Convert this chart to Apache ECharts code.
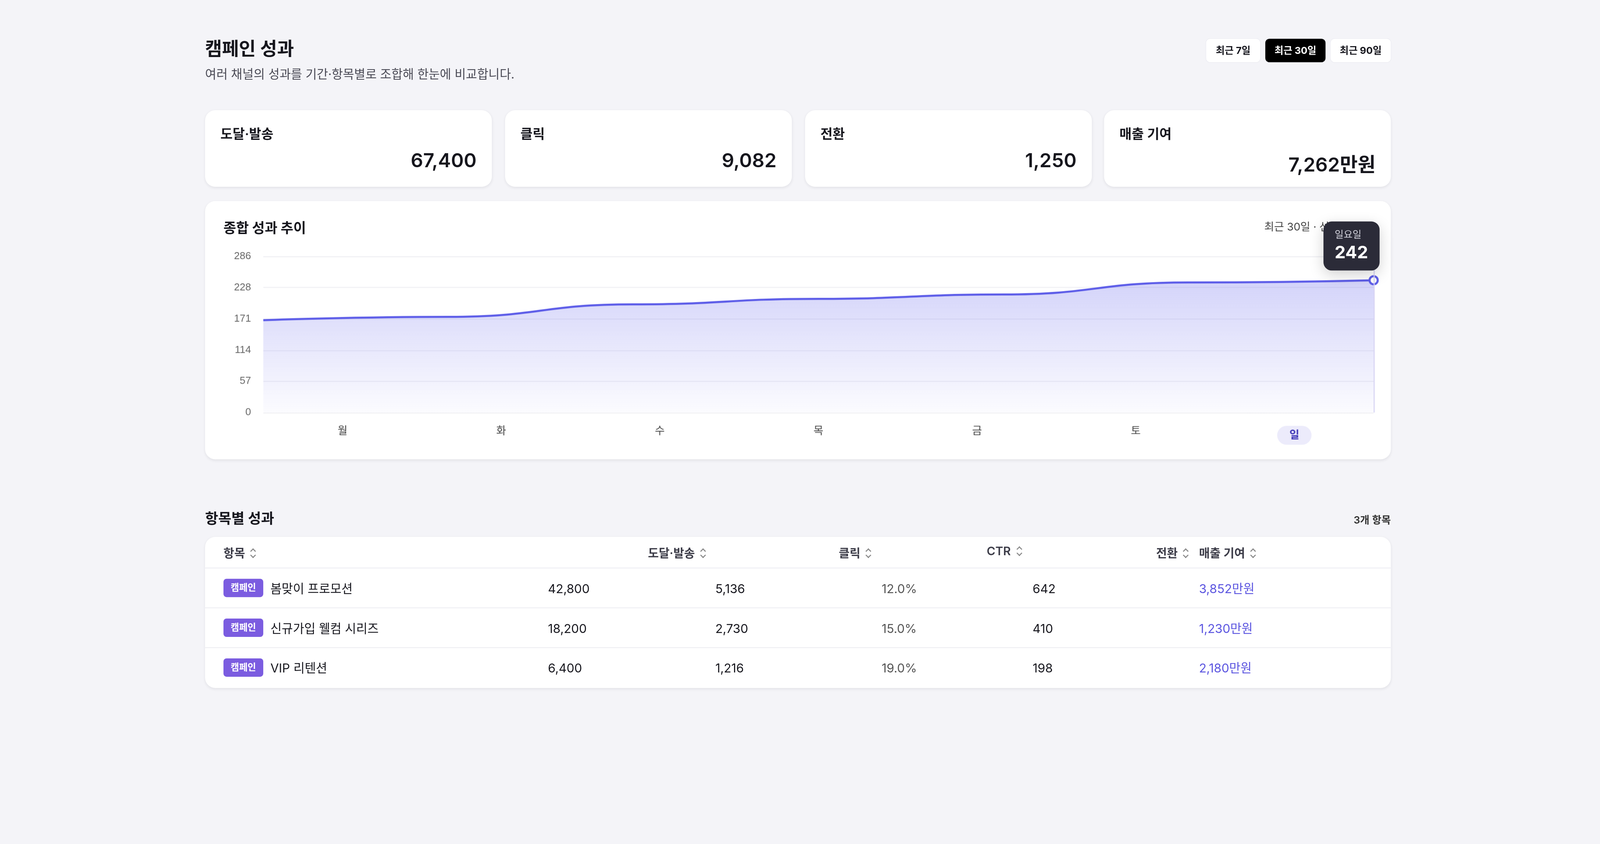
<!DOCTYPE html>
<html lang="ko">
<head>
<meta charset="utf-8">
<script src="https://cdn.jsdelivr.net/npm/echarts@6/dist/echarts.min.js"></script>
<style>
  html, body { margin: 0; padding: 0; background: #f4f4f8; }
  body { width: 100vw; height: 100vh; overflow: hidden; font-family: Inter, "Noto Sans CJK KR", sans-serif; color: #16161d; }
  #page { position: absolute; left: 0; top: 0; width: 1568px; height: 706px; transform-origin: 0 0; }
  .abs { position: absolute; }
  .card { position: absolute; background: #fff; border-radius: 10px; box-shadow: 0 1px 3px rgba(20,20,40,0.08); }
  h1 { position: absolute; left: 201px; top: 36px; margin: 0; font-size: 18px; font-weight: 700; line-height: 24px; }
  .sub { left: 201px; top: 63px; font-size: 12px; color: #4a4a55; }
  .btn { position: absolute; top: 38px; height: 23px; line-height: 23px; text-align: center; font-size: 9.5px; font-weight: 700; border-radius: 4px; background: #fff; color: #16161d; box-shadow: 0 0 0 0.5px #ececf2; }
  .btn.on { background: #000; color: #fff; }
  .kpi .lab { position: absolute; left: 15px; top: 13px; font-size: 13px; font-weight: 600; }
  .kpi .val { position: absolute; right: 15px; top: 38px; font-size: 19px; font-weight: 600; }
  .th { position: absolute; top: 7px; font-size: 11.5px; font-weight: 600; color: #3c3c48; }
  .sort { position: relative; display: inline-block; width: 6px; height: 10px; margin-left: 5px; vertical-align: -1px; }
  .sort::before, .sort::after { content: ''; position: absolute; left: 1px; width: 3px; height: 3px; border-left: 0.8px solid #888; border-top: 0.8px solid #888; }
  .sort::before { top: 1px; transform: rotate(45deg); }
  .sort::after { top: 5px; transform: rotate(225deg); }
  .row { position: absolute; left: 0; width: 1162px; height: 39px; border-top: 1px solid #f0f0f4; }
  .cell { position: absolute; top: 12px; font-size: 12px; line-height: 15px; }
  .badge { position: absolute; left: 18px; top: 10px; width: 39px; height: 18px; line-height: 18px; background: #7b5ce0; color: #fff; font-size: 9px; font-weight: 600; text-align: center; border-radius: 3px; }
</style>
</head>
<body>
<div id="page">
  <h1>캠페인 성과</h1>
  <div class="abs sub">여러 채널의 성과를 기간·항목별로 조합해 한눈에 비교합니다.</div>
  <div class="btn" style="left:1182px;width:53px">최근 7일</div>
  <div class="btn on" style="left:1240px;width:59px">최근 30일</div>
  <div class="btn" style="left:1304px;width:59px">최근 90일</div>

  <div id="kpis"></div>

  <div class="card" style="left:201px;top:197px;width:1162px;height:253px">
    <div class="abs" style="left:18px;top:15px;font-size:13.5px;font-weight:700">종합 성과 추이</div>
    <div class="abs" style="left:1038px;top:17px;font-size:10.5px;color:#444">최근 30일 · 선택 일요일</div>
    <div id="chart" class="abs" style="left:0;top:40px;width:1162px;height:205px"></div>
  </div>

  <div class="abs" style="left:201px;top:497px;font-size:14px;font-weight:700">항목별 성과</div>
  <div class="abs" style="left:1300px;top:501px;width:63px;text-align:right;font-size:10px;font-weight:600;color:#333">3개 항목</div>
  <div id="table" class="card" style="left:201px;top:526px;width:1162px;height:148px;overflow:hidden"></div>
</div>

<script>
// KPI summary
const kpiLabels = ['도달·발송', '클릭', '전환', '매출 기여'];
const kpiValues = ['67,400', '9,082', '1,250', '7,262만원'];

// trend line
const days = ['월', '화', '수', '목', '금', '토', '일'];
const dayNames = ['월요일', '화요일', '수요일', '목요일', '금요일', '토요일', '일요일'];
const trend = [169, 175, 198, 208, 216, 238, 242];
const yMax = 286;
const yStep = 57.2;

// table
const names = ['봄맞이 프로모션', '신규가입 웰컴 시리즈', 'VIP 리텐션'];
const reach = ['42,800', '18,200', '6,400'];
const clicks = ['5,136', '2,730', '1,216'];
const ctr = ['12.0%', '15.0%', '19.0%'];
const conv = ['642', '410', '198'];
const revenue = ['3,852만원', '1,230만원', '2,180만원'];
const headers = [['항목', 18], ['도달·발송', 434], ['클릭', 621], ['CTR', 766], ['전환', 932], ['매출 기여', 974]];

const scale = window.innerWidth / 1568;
document.getElementById('page').style.transform = `scale(${scale})`;

const kpiLeft = [201, 495, 789, 1082];
document.getElementById('kpis').innerHTML = kpiLabels.map((l, i) =>
  `<div class="card kpi" style="left:${kpiLeft[i]}px;top:108px;width:281px;height:75px">
     <div class="lab">${l}</div><div class="val">${kpiValues[i]}</div></div>`).join('');

let t = headers.map(h => `<div class="th" style="left:${h[1]}px">${h[0]}<span class="sort"></span></div>`).join('');
names.forEach((n, i) => {
  t += `<div class="row" style="top:${30 + i * 39}px">
    <div class="badge">캠페인</div>
    <div class="cell" style="left:64px">${n}</div>
    <div class="cell" style="left:336px">${reach[i]}</div>
    <div class="cell" style="left:500px">${clicks[i]}</div>
    <div class="cell" style="left:663px;color:#555">${ctr[i]}</div>
    <div class="cell" style="left:811px">${conv[i]}</div>
    <div class="cell" style="left:974px;color:#5b55e0">${revenue[i]}</div></div>`;
});
document.getElementById('table').innerHTML = t;

const chart = echarts.init(document.getElementById('chart'), null, {
  width: 1162, height: 205, devicePixelRatio: scale * (window.devicePixelRatio || 1)
});
const last = trend.length - 1;
chart.setOption({
  animation: false,
  grid: { left: 57, right: 17, top: 14, bottom: 38 },
  tooltip: {
    trigger: 'item',
    alwaysShowContent: true,
    backgroundColor: '#2b2b38',
    borderWidth: 0,
    padding: [7, 11],
    extraCssText: 'border-radius:8px;box-shadow:0 4px 14px rgba(0,0,0,0.18);',
    position: p => [p[0] - 49, p[1] - 58],
    formatter: p => `<div style="font-family:Inter,'Noto Sans CJK KR';line-height:1.2"><div style="color:#d0d0da;font-size:9.5px">${dayNames[p.dataIndex]}</div><div style="color:#fff;font-size:17px;font-weight:700;margin-top:2px">${p.value}</div></div>`
  },
  xAxis: [{
    type: 'category', data: days, boundaryGap: true,
    axisLine: { show: false }, axisTick: { show: false },
    axisLabel: {
      margin: 13,
      formatter: (v, i) => i === last ? `{on|${v}}` : v,
      color: '#444', fontSize: 10.5, fontFamily: 'Inter, "Noto Sans CJK KR"',
      rich: { on: { backgroundColor: '#ecebfb', color: '#3f37b8', fontWeight: 700, fontSize: 10.5, padding: [4, 12], borderRadius: 10 } }
    }
  }, {
    type: 'category', data: days, boundaryGap: false, show: false
  }],
  yAxis: {
    type: 'value', min: 0, max: yMax, interval: yStep,
    axisLabel: { formatter: v => Math.floor(v + 0.01), color: '#666', fontSize: 10, margin: 12 },
    splitLine: { lineStyle: { color: '#f0f0f4' } },
    axisLine: { show: false }, axisTick: { show: false }
  },
  series: [{
    type: 'line', xAxisIndex: 1, smooth: 0.5, smoothMonotone: 'x',
    data: trend.map((v, i) => i === last ? { value: v, symbol: 'emptyCircle', symbolSize: 8 } : { value: v, symbolSize: 0 }),
    lineStyle: { color: '#5d5de8', width: 2 },
    itemStyle: { color: '#5d5de8', borderWidth: 2 },
    areaStyle: { color: new echarts.graphic.LinearGradient(0, 0, 0, 1, [
      { offset: 0, color: 'rgba(108,108,238,0.42)' },
      { offset: 1, color: 'rgba(108,108,238,0.03)' }
    ]) },
    markLine: {
      silent: true, symbol: 'none', label: { show: false },
      lineStyle: { color: '#d6d3f3', width: 1, type: 'solid' },
      data: [{ xAxis: last }]
    }
  }]
});
chart.dispatchAction({ type: 'showTip', seriesIndex: 0, dataIndex: last });
</script>
</body>
</html>
